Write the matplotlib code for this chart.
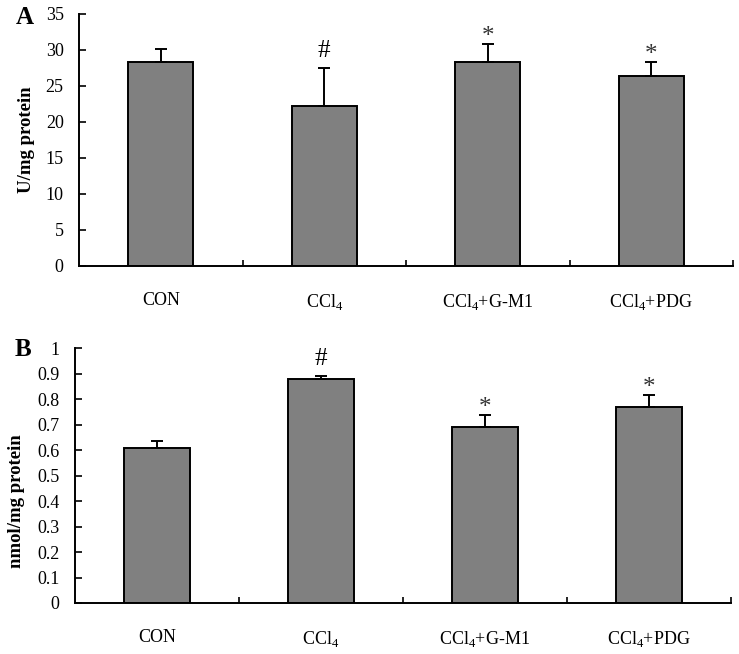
import matplotlib
matplotlib.use("Agg")
import matplotlib.pyplot as plt
import numpy as np

plt.rcParams["font.family"] = ["Liberation Serif", "DejaVu Serif"]
plt.rcParams["mathtext.fontset"] = "custom"
plt.rcParams["mathtext.rm"] = "Liberation Serif"

# Datos
grupos = ["CON", "CCl$_4$", "CCl$_4$+G-M1", "CCl$_4$+PDG"]

valores_a = [28.4, 22.2, 28.4, 26.4]
error_a = [1.7, 5.3, 2.5, 2.0]
marcas_a = ["", "#", "*", "*"]

valores_b = [0.607, 0.880, 0.690, 0.770]
error_b = [0.028, 0.012, 0.048, 0.048]
marcas_b = ["", "#", "*", "*"]

fig = plt.figure(figsize=(7.39, 6.54), dpi=100)
ax_a = fig.add_axes([0.1069, 0.5933, 0.8850, 0.3853])
ax_b = fig.add_axes([0.1011, 0.0780, 0.8881, 0.3894])


def dibujar_panel(ax, valores, errores, marcas, ymax, paso, etiqueta, letra, fmt,
                  label_xy, letra_xy):
    x = np.arange(len(grupos))
    ax.bar(x, valores, width=0.40, color="#808080", edgecolor="black", linewidth=1.4, zorder=2)
    ax.errorbar(x, valores, yerr=[np.zeros(len(errores)), errores], fmt="none",
                ecolor="black", elinewidth=1.4, capsize=4, capthick=1.4, zorder=3)
    for xi, v, e, m in zip(x, valores, errores, marcas):
        if m == "#":
            ax.annotate(m, (xi, v + e), xytext=(0, 4), textcoords="offset points",
                        ha="center", va="bottom", fontsize=18)
        elif m == "*":
            ax.annotate(m, (xi, v + e), xytext=(0, -3), textcoords="offset points",
                        ha="center", va="bottom", fontsize=18, color="#333333")
    ax.set_xlim(-0.5, 3.5)
    ax.set_ylim(0, ymax)
    ax.set_yticks(np.arange(0, ymax + paso / 2, paso))
    ax.yaxis.set_major_formatter(plt.FuncFormatter(fmt))
    ax.set_xticks(x)
    ax.set_xticklabels(grupos, fontsize=13)
    ax.set_xticks([0.5, 1.5, 2.5, 3.5], minor=True)
    ax.tick_params(axis="x", which="major", length=0, pad=19)
    ax.tick_params(axis="x", which="minor", direction="in", length=4, width=1.2)
    ax.tick_params(axis="y", direction="in", length=5, width=1.2, pad=11, labelsize=13)
    for s in ["top", "right"]:
        ax.spines[s].set_visible(False)
    for s in ["left", "bottom"]:
        ax.spines[s].set_linewidth(1.4)
    ax.set_ylabel(etiqueta, fontsize=13.5, fontweight="bold")
    ax.yaxis.set_label_coords(*label_xy)
    ax.text(letra_xy[0], letra_xy[1], letra, transform=ax.transAxes, fontsize=18,
            fontweight="bold", ha="center", va="center")


dibujar_panel(ax_a, valores_a, error_a, marcas_a, 35, 5, "U/mg protein", "A",
              lambda v, p: f"{v:g}", (-0.068, 0.5), (-0.083, 0.985))
dibujar_panel(ax_b, valores_b, error_b, marcas_b, 1.0, 0.1, "nmol/mg protein", "B",
              lambda v, p: f"{v:.1f}".rstrip("0").rstrip(".") if v in (0, 1) else f"{v:.1f}",
              (-0.076, 0.40), (-0.079, 0.995))

fig.savefig("out.png", dpi=100)
